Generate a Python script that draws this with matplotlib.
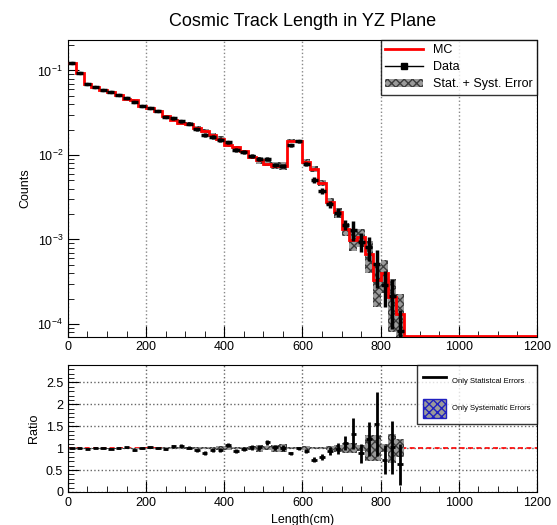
import numpy as np
import matplotlib.pyplot as plt
from matplotlib.patches import Patch
from matplotlib.lines import Line2D
from matplotlib.ticker import MultipleLocator, LogLocator, NullFormatter

plt.rcParams['font.family'] = ['Liberation Sans', 'DejaVu Sans']

# 20 cm bins, 0 - 1200
edges = np.arange(0, 1201, 20)

mc = [0.122, 0.094, 0.070, 0.063, 0.058, 0.0555, 0.051, 0.046, 0.0447, 0.0383,
      0.0356, 0.0328, 0.0291, 0.0261, 0.0238, 0.0232, 0.0211, 0.0193, 0.0173, 0.0156,
      0.0132, 0.0123, 0.0110, 0.0095, 0.0087, 0.0079, 0.0075, 0.0074, 0.0148, 0.0145,
      0.0083, 0.0069, 0.0047, 0.0028, 0.0021, 0.00134, 0.00098, 0.00107, 0.00068, 0.00033,
      0.00040, 0.00021, 0.000132] + [0.0] * 17

ratio = [1.00, 1.00, 0.99, 1.01, 1.00, 0.99, 1.00, 1.02, 0.95, 1.00,
         1.02, 1.01, 0.98, 1.04, 1.05, 1.01, 0.95, 0.89, 0.95, 0.96,
         1.07, 0.93, 0.98, 1.02, 1.02, 1.13, 1.02, 1.00, 0.88, 1.00,
         0.94, 0.74, 0.80, 0.93, 0.99, 1.12, 1.33, 0.88, 1.20, 1.54,
         0.73, 1.02, 0.63]

ratio_stat = [0.012, 0.012, 0.012, 0.012, 0.015, 0.015, 0.015, 0.015, 0.02, 0.02,
              0.02, 0.025, 0.025, 0.035, 0.035, 0.04, 0.04, 0.045, 0.045, 0.05,
              0.05, 0.05, 0.05, 0.055, 0.055, 0.06, 0.06, 0.06, 0.035, 0.035,
              0.05, 0.06, 0.07, 0.09, 0.12, 0.16, 0.35, 0.22, 0.39, 0.73,
              0.33, 0.60, 0.47]

ratio_syst = [0.01, 0.01, 0.01, 0.01, 0.01, 0.01, 0.01, 0.01, 0.01, 0.01,
              0.01, 0.01, 0.015, 0.02, 0.03, 0.03, 0.02, 0.02, 0.03, 0.04,
              0.04, 0.02, 0.02, 0.04, 0.08, 0.04, 0.08, 0.10, 0.03, 0.03,
              0.05, 0.03, 0.03, 0.04, 0.08, 0.12, 0.12, 0.06, 0.30, 0.30,
              0.10, 0.33, 0.20]

mc = np.array(mc)
n = len(ratio)
centers = (edges[:-1] + edges[1:]) / 2
ratio = np.array(ratio)
ratio_stat = np.array(ratio_stat)
ratio_syst = np.array(ratio_syst)
data = mc[:n] * ratio
data_err = mc[:n] * ratio_stat
band = mc[:n] * np.sqrt(ratio_syst**2 + (ratio_stat / ratio)**2 * 0.8)

ymin, ymax = 7e-5, 0.23

fig = plt.figure(figsize=(5.57, 5.25), dpi=100)
ax = fig.add_axes([0.122, 0.358, 0.842, 0.566])
axr = fig.add_axes([0.122, 0.063, 0.842, 0.242])

hatch_kw = dict(facecolor='#9a9a9a', edgecolor='#3c3c3c', hatch='xxxx', linewidth=0)

# error band
for i in range(n):
    lo = max(mc[i] - band[i], ymin)
    ax.fill_between([edges[i], edges[i + 1]], lo, mc[i] + band[i], **hatch_kw, zorder=2)

mc_plot = np.clip(mc, ymin * 1.02, None)
ax.stairs(mc_plot, edges, color='red', lw=2, baseline=None, zorder=3)
ax.errorbar(centers[:n], data, xerr=9, yerr=data_err, fmt='s', ms=1.5,
            color='black', elinewidth=2.5, capsize=0, zorder=4)

ax.set_yscale('log')
ax.set_xlim(0, 1200)
ax.set_ylim(ymin, ymax)
ax.set_ylabel('Counts', fontsize=9)
ax.set_title('Cosmic Track Length in YZ Plane', fontsize=13, pad=10)
ax.xaxis.set_major_locator(MultipleLocator(200))
ax.xaxis.set_minor_locator(MultipleLocator(50))
ax.yaxis.set_minor_locator(LogLocator(base=10, subs=np.arange(2, 10)))
ax.yaxis.set_minor_formatter(NullFormatter())
ax.grid(axis='x', which='major', linestyle=':', color='#888888', lw=1)
ax.tick_params(which='both', direction='in', labelsize=9)
ax.tick_params(which='major', length=8)
ax.tick_params(which='minor', length=4)
ax.tick_params(axis='x', pad=3)

leg_handles = [
    Line2D([0], [0], color='red', lw=2),
    Line2D([0], [0], color='black', marker='s', ms=4, lw=1),
    Patch(**hatch_kw),
]
ax.legend(leg_handles, ['MC', 'Data', 'Stat. + Syst. Error'], loc='upper right',
          fontsize=9, frameon=True, fancybox=False, edgecolor='black',
          borderaxespad=0, handlelength=3, labelspacing=0.4, borderpad=0.35)

# ratio panel
axr.axhline(1, color='red', lw=1.2, ls=(0, (3, 2)), zorder=2)
for i in range(n):
    axr.fill_between([edges[i], edges[i + 1]], 1 - ratio_syst[i], 1 + ratio_syst[i],
                     **hatch_kw, zorder=2)
axr.errorbar(centers[:n], ratio, xerr=7, yerr=ratio_stat, fmt='none',
             ecolor='black', elinewidth=2, capsize=0, zorder=4)
axr.set_xlim(0, 1200)
axr.set_ylim(0, 2.9)
axr.set_xlabel('Length(cm)', fontsize=9)
axr.set_ylabel('Ratio', fontsize=9)
axr.xaxis.set_major_locator(MultipleLocator(200))
axr.xaxis.set_minor_locator(MultipleLocator(50))
axr.yaxis.set_major_locator(MultipleLocator(0.5))
axr.yaxis.set_minor_locator(MultipleLocator(0.1))
axr.set_yticks([0, 0.5, 1, 1.5, 2, 2.5])
axr.set_yticklabels(['0', '0.5', '1', '1.5', '2', '2.5'])
axr.grid(which='major', linestyle=':', color='#666666', lw=1, zorder=3)
axr.tick_params(which='both', direction='in', labelsize=9)
axr.tick_params(which='major', length=8)
axr.tick_params(which='minor', length=4)

rleg_handles = [
    Line2D([0], [0], color='black', lw=2),
    Patch(facecolor='#9a9a9a', edgecolor='#2020c0', hatch='xxxx', linewidth=1),
]
axr.legend(rleg_handles, ['Only Statistcal Errors', 'Only Systematic Errors'],
           loc='upper right', fontsize=5.5, frameon=True, fancybox=False,
           edgecolor='black', borderaxespad=0, handlelength=3, handleheight=3.4,
           labelspacing=1.2, borderpad=0.8, handletextpad=0.8)

fig.savefig('out.png', dpi=100)
